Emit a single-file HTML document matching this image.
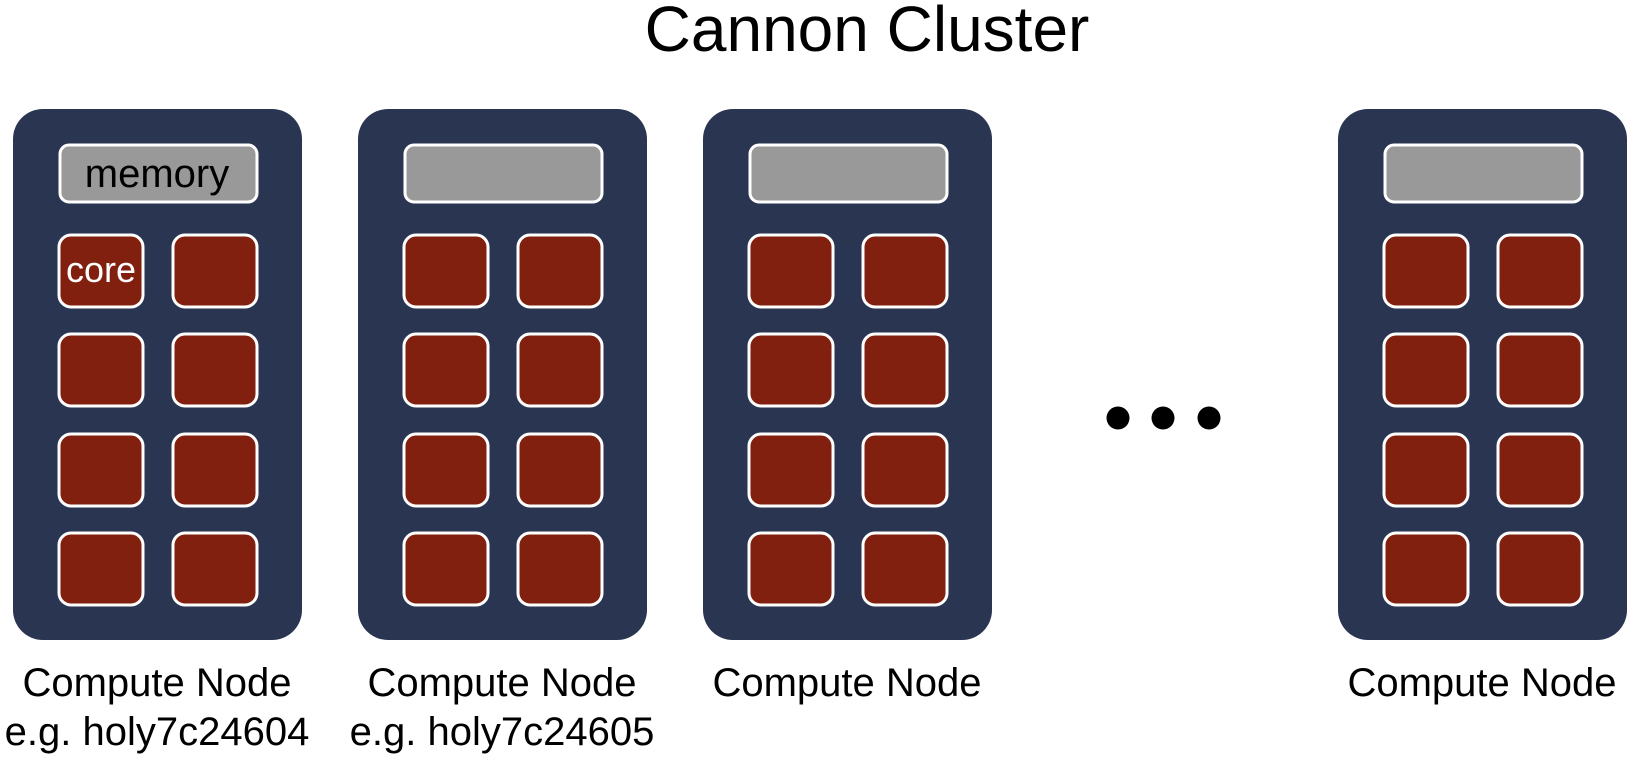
<!DOCTYPE html>
<html><head><meta charset="utf-8"><style>html,body{margin:0;padding:0;background:#fff;}svg{display:block}</style></head>
<body>
<svg width="1629" height="757" viewBox="0 0 1629 757" xmlns="http://www.w3.org/2000/svg" font-family="Liberation Sans, Arial, sans-serif">
<defs>
<g id="node">
<rect x="0" y="0" width="289" height="531" rx="30" fill="#2a3552"/>
<rect x="47" y="36" width="197" height="57" rx="9" fill="#999999" stroke="#fff" stroke-width="3"/>
<g fill="#82200f" stroke="#fff" stroke-width="3">
<rect x="46" y="126" width="84" height="72" rx="12"/><rect x="160" y="126" width="84" height="72" rx="12"/>
<rect x="46" y="225" width="84" height="72" rx="12"/><rect x="160" y="225" width="84" height="72" rx="12"/>
<rect x="46" y="325" width="84" height="72" rx="12"/><rect x="160" y="325" width="84" height="72" rx="12"/>
<rect x="46" y="424" width="84" height="72" rx="12"/><rect x="160" y="424" width="84" height="72" rx="12"/>
</g>
</g>
</defs>
<text x="867" y="51" font-size="64" text-anchor="middle" fill="#000">Cannon Cluster</text>
<use href="#node" x="13" y="109"/>
<use href="#node" x="358" y="109"/>
<use href="#node" x="703" y="109"/>
<use href="#node" x="1338" y="109"/>
<text x="157" y="187" font-size="40" text-anchor="middle" fill="#000">memory</text>
<text x="101" y="282" font-size="36" text-anchor="middle" fill="#fff">core</text>
<circle cx="1118" cy="418" r="11.5" fill="#000"/>
<circle cx="1163" cy="418" r="11.5" fill="#000"/>
<circle cx="1209" cy="418" r="11.5" fill="#000"/>
<g font-size="40" text-anchor="middle" fill="#000">
<text x="157" y="696">Compute Node</text>
<text x="157" y="745">e.g. holy7c24604</text>
<text x="502" y="696">Compute Node</text>
<text x="502" y="745">e.g. holy7c24605</text>
<text x="847" y="696">Compute Node</text>
<text x="1482" y="696">Compute Node</text>
</g>
</svg>
</body></html>
